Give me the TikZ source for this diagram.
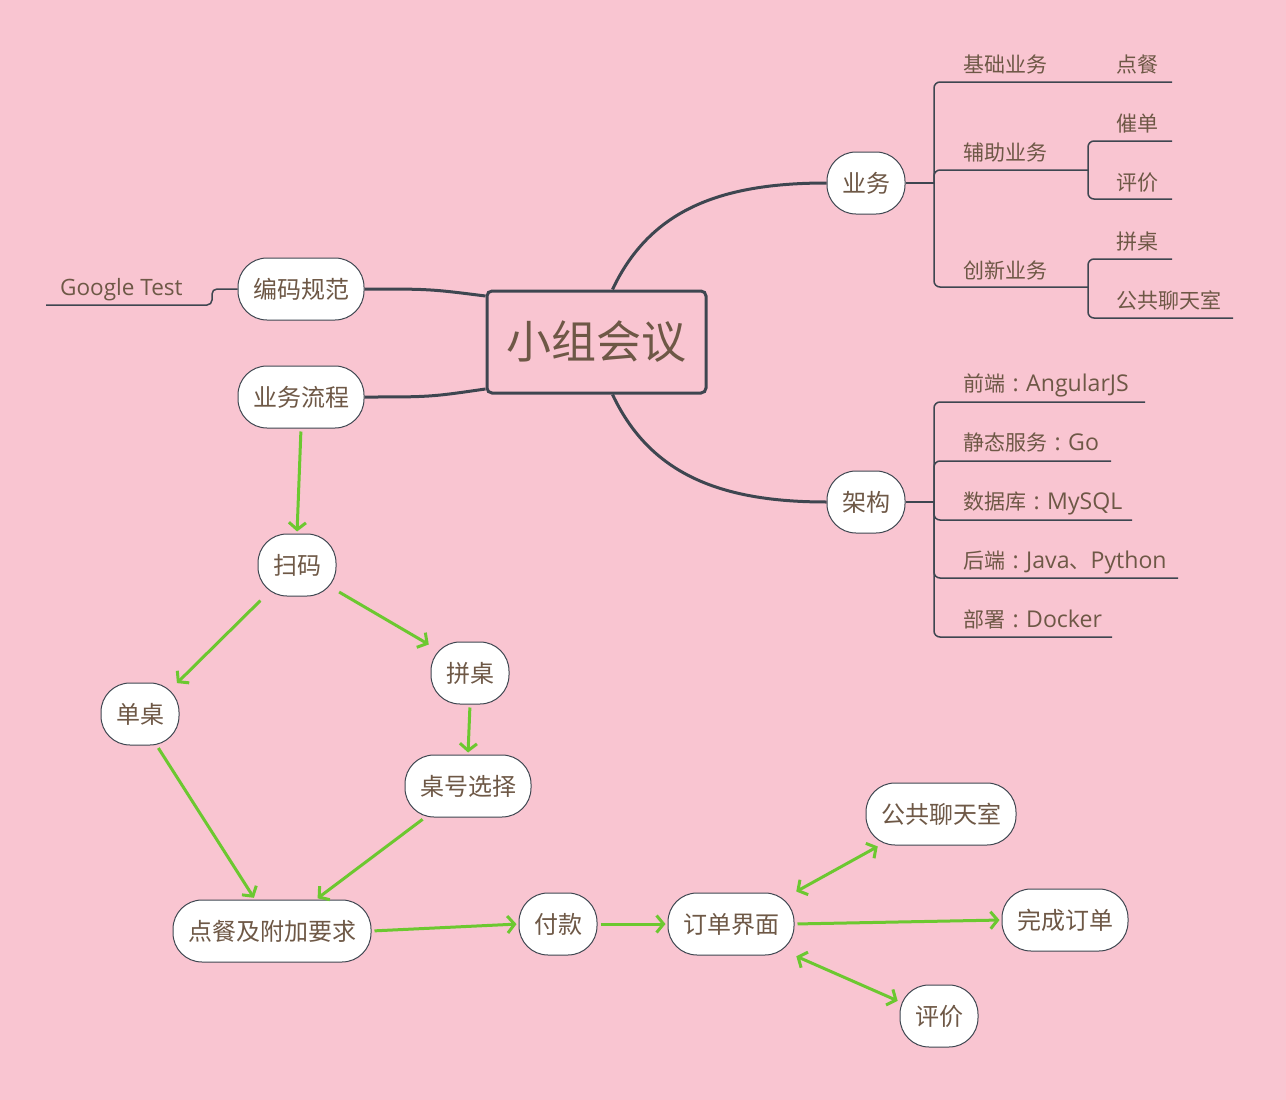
\documentclass[tikz,border=0pt]{standalone}
\usepackage{fontspec}
\setmainfont{Noto Sans CJK SC}
\newfontfamily\lat[Scale=1.1]{Open Sans}
\usetikzlibrary{arrows.meta}
\definecolor{bg}{RGB}{249,197,209}
\definecolor{txt}{RGB}{110,88,70}
\definecolor{ln}{RGB}{62,70,80}
\definecolor{grn}{RGB}{108,200,48}
\newcommand{\colonc}{\makebox[1em]{\lat :}}
\begin{document}
\begin{tikzpicture}[x=1pt,y=-1pt,
  topic/.style={draw=ln, line width=1pt, fill=white, rounded corners=29pt, minimum height=62pt, inner xsep=15pt, inner ysep=0pt, font=\fontsize{24}{24}\selectfont, text=txt},
  lbl/.style={anchor=base west, font=\fontsize{21}{21}\selectfont, text=txt, inner sep=0pt},
  conn/.style={draw=ln, line width=3pt},
  br/.style={draw=ln, line width=1.5pt, rounded corners=6pt},
  flow/.style={draw=grn, line width=3pt, -{Straight Barb[length=7pt,width=17pt]}, shorten >=2pt, shorten <=3pt},
  flowb/.style={draw=grn, line width=3pt, {Straight Barb[length=7pt,width=17pt]}-{Straight Barb[length=7pt,width=17pt]}, shorten >=2pt, shorten <=2pt}
]
\fill[bg] (0,0) rectangle (1286,1100);
\useasboundingbox (0,0) rectangle (1286,1100);

% central topic
\node[draw=ln, line width=3pt, rounded corners=5pt, minimum width=219pt, minimum height=102pt, text=txt, font=\fontsize{45}{45}\selectfont] (root) at (596.5,342) {\raisebox{-4pt}{小组会议}};

% main topics
\node[topic, minimum width=78pt] (yw) at (866,183) {业务};
\node[topic, minimum width=78pt] (jg) at (866,502) {架构};
\node[topic, minimum width=126pt] (bm) at (301,289) {编码规范};
\node[topic, minimum width=126pt] (lc) at (301,397) {业务流程};

% connectors from root
\draw[conn] ([xshift=16pt]root.north) .. controls (650,210) and (720,183) .. (yw.west);
\draw[conn] ([xshift=16pt]root.south) .. controls (650,474) and (720,502) .. (jg.west);
\draw[conn] (bm.east) .. controls (430,289) .. ([yshift=46pt]root.west);
\draw[conn] (lc.east) .. controls (430,397) .. ([yshift=-47pt]root.west);

% Google Test
\coordinate (gtend) at (46,305);
\draw[br, rounded corners=5pt] (bm.west) -- (212,289) -- (212,305) -- (gtend);
\node[lbl, font=\lat\fontsize{20.5}{21}\selectfont] (gt) at (60,295) {Google Test};

% business branches
\coordinate (yj) at (934,183);
\draw[conn, line width=2.5pt] (yw.east) -- (yj);
\draw[br] (yj) -- (934,82) -- (1172,82);
\draw[br] (yj) -- (934,170) -- (1088,170);
\draw[br] (yj) -- (934,287) -- (1088,287);
\draw[br] (1088,170) -- (1088,141) -- (1172,141);
\draw[br] (1088,170) -- (1088,199) -- (1172,199);
\draw[br] (1088,287) -- (1088,259) -- (1172,259);
\draw[br] (1088,287) -- (1088,318) -- (1233,318);
\node[lbl] (b1) at (963,72) {基础业务};
\node[lbl] (b2) at (963,160) {辅助业务};
\node[lbl] (b3) at (963,278) {创新业务};
\node[lbl] (b11) at (1116,72) {点餐};
\node[lbl] (b21) at (1116,131) {催单};
\node[lbl] (b22) at (1116,190) {评价};
\node[lbl] (b31) at (1116,249) {拼桌};
\node[lbl] (b32) at (1116,308) {公共聊天室};

% architecture branches
\coordinate (jj) at (934,502);
\draw[conn, line width=2.5pt] (jg.east) -- (jj);
\draw[br] (jj) -- (934,402) -- (1145,402);
\draw[br] (jj) -- (934,461) -- (1111,461);
\draw[br] (jj) -- (934,520) -- (1132,520);
\draw[br] (jj) -- (934,578) -- (1178,578);
\draw[br] (jj) -- (934,637) -- (1112,637);
\node[lbl] (a1) at (963,391) {前端\colonc{\lat AngularJS}};
\node[lbl] (a2) at (963,450) {静态服务\colonc{\lat Go}};
\node[lbl] (a3) at (963,509) {数据库\colonc{\lat MySQL}};
\node[lbl] (a4) at (963,568) {后端\colonc{\lat Java}、{\lat Python}};
\node[lbl] (a5) at (963,627) {部署\colonc{\lat Docker}};

% flow nodes
\node[topic, minimum width=78pt] (sm) at (297,565) {扫码};
\node[topic, minimum width=78pt] (dz) at (140,714) {单桌};
\node[topic, minimum width=78pt] (pz) at (470,673) {拼桌};
\node[topic, minimum width=126pt] (zh) at (468,786) {桌号选择};
\node[topic, minimum width=198pt] (dc) at (272,931) {点餐及附加要求};
\node[topic, minimum width=78pt] (fk) at (558,924) {付款};
\node[topic, minimum width=126pt] (dd) at (731,924) {订单界面};
\node[topic, minimum width=150pt] (gg) at (941,814) {公共聊天室};
\node[topic, minimum width=126pt] (wc) at (1065,920) {完成订单};
\node[topic, minimum width=78pt] (pj) at (939,1016) {评价};

% flow arrows
\draw[flow] (lc.south) -- (sm.north);
\draw[flow] ([xshift=5pt,yshift=-2pt]sm.south west) -- ([xshift=-4pt,yshift=-2pt]dz.north east);
\draw[flow] ([yshift=6pt]sm.south east) -- ([yshift=-4pt]pz.north west);
\draw[flow] (pz.south) -- (zh.north);
\draw[flow] (dz.-62) -- ([xshift=-17pt]dc.north);
\draw[flow] ([xshift=-43pt]zh.south) -- ([xshift=44pt]dc.north);
\draw[flow] (dc.east) -- (fk.west);
\draw[flow] (fk.east) -- (dd.west);
\draw[flow] (dd.east) -- (wc.west);
\draw[flowb] (dd.north east) -- ([xshift=14pt]gg.south west);
\draw[flowb] (dd.south east) -- (pj.160);
\end{tikzpicture}
\end{document}
